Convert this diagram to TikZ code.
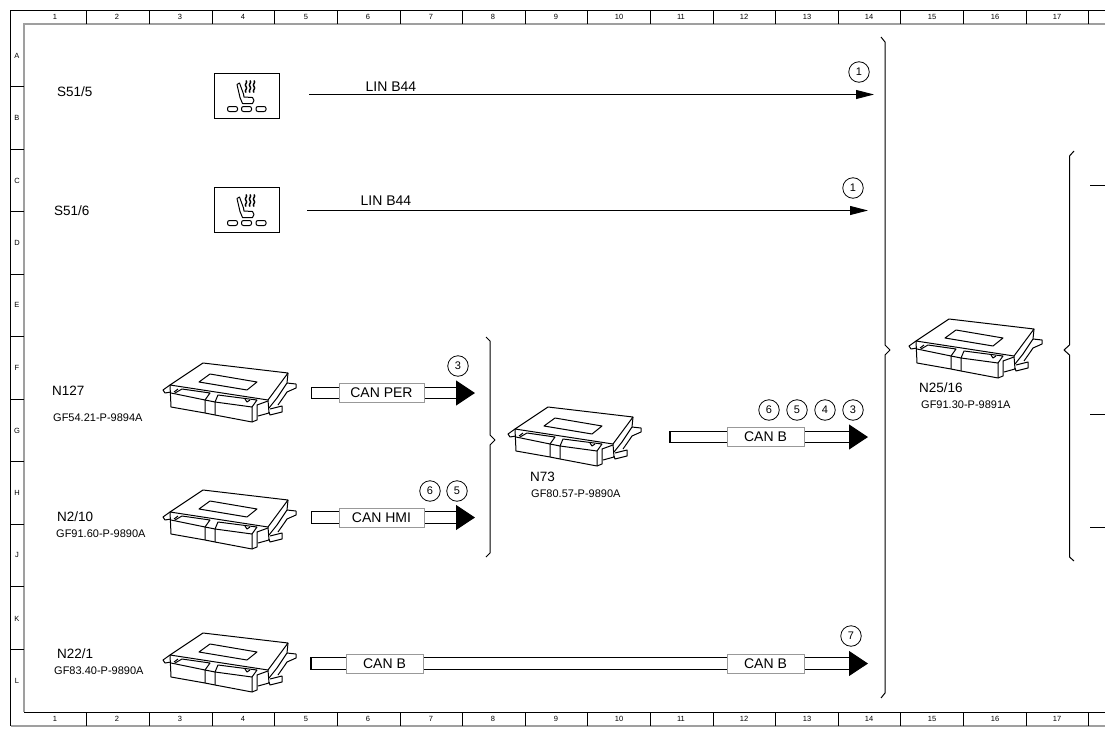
\documentclass[tikz,border=0pt]{standalone}
\usepackage{fontspec}
\setmainfont{Liberation Sans}
\usetikzlibrary{arrows.meta, calc}

\tikzset{
  ecu/.pic={
    \draw[eculine, fill=white] (20,35) -- (53,13) -- (138,23) -- (118,50) -- cycle;
    \draw[eculine] (49,32) -- (60,24) -- (107,32) -- (97,40) -- cycle;
    % left lug and plug
    \draw[eculine] (20,35) -- (13,40) -- (15,43) -- (21,42);
    \draw[eculine] (20,35) -- (21,57) -- (55,63) -- (55,50) -- (21,43);
    \draw[eculine] (25,43) -- (32,39) -- (60,43) -- (55,50);
    \draw[eculine] (28,39) -- (24,42);
    \draw[eculine] (55,50) -- (65,52) -- (65,65) -- (55,63);
    % right plug
    \draw[eculine] (65,52) -- (102,57) -- (102,72) -- (65,65);
    \draw[eculine] (65,52) -- (68,45) -- (107,50) -- (102,57);
    \draw[eculine] (95,49) -- (97,52) -- (100,50);
    \draw[eculine] (102,72) -- (107,70) -- (107,55) -- (118,51);
    \draw[eculine] (118,50) -- (119,63) -- (108,66);
    \draw[eculine] (138,23) -- (137,33) -- (127,48) -- (119,58);
    % mounting lugs
    \draw[eculine] (137,33) -- (146,34) -- (146,38) -- (137,42) -- (135,45) -- (128,55);
    \draw[eculine] (120,59) -- (132,56) -- (132,62) -- (120,65) -- (119,62);
  },
  seaticon/.pic={
    \draw[line width=1pt, line join=round] (-9.5,-11) -- (-7,-12.5) -- (-3,-1.5) -- (-2.5,1.5) -- (6,2)
      -- (7.5,5) -- (6,8) -- (-4,8) -- (-6.5,2) -- cycle;
    \foreach \x in {-0.5,3.5,7.5}
      \draw[line width=1.4pt] (\x,-15) .. controls (\x+2.5,-13) and (\x-2.5,-11) .. (\x,-9)
        .. controls (\x+2.5,-7) and (\x-2.5,-5) .. (\x,-3);
    \foreach \x in {-14,0,14.5}
      \draw[line width=1pt, rounded corners=2pt] (\x-5,11) rectangle (\x+5,16);
  }
}

\begin{document}
\begin{tikzpicture}[
  x=1pt, y=-1pt,
  frameline/.style={black, line width=0.9pt},
  innerline/.style={gray!75, line width=2pt},
  eculine/.style={black, line width=1pt, line join=round},
  gridtxt/.style={font=\fontsize{7.5}{9}\selectfont, inner sep=0pt},
  lbl/.style={font=\fontsize{13.5}{15}\selectfont, anchor=west, inner sep=0pt},
  code/.style={font=\fontsize{11}{12}\selectfont, anchor=west, inner sep=0pt},
  linlbl/.style={font=\fontsize{14}{15}\selectfont, inner sep=0pt},
  num/.style={draw, circle, line width=0.8pt, minimum size=20.5pt, inner sep=0pt,
              font=\fontsize{11}{12}\selectfont},
  seatbox/.style={draw=black, line width=1pt, minimum width=65pt, minimum height=45pt,
                  inner sep=0pt, outer sep=0pt},
  lin/.style={-{Triangle[length=18pt, width=9pt]}, black, line width=0.9pt},
  bus/.style={double=white, double distance=10.5pt, line width=1.1pt, draw=black,
              -{Triangle[length=19pt, width=25pt, fill=black]}},
  busend/.style={fill=black, minimum width=1.5pt, minimum height=12.5pt, inner sep=0pt, outer sep=0pt},
  buslbl/.style={draw=gray!80, fill=white, line width=1pt, minimum height=19pt, inner sep=0pt,
                 font=\fontsize{14}{15}\selectfont},
  bracket/.style={black, line width=1pt, line join=round}
]
  \useasboundingbox (0,0) rectangle (1114,736);
  \def\xR{1105} \def\yT{10.5} \def\yI{24} \def\yB{712} \def\yE{725.5}

  %--- sheet frame ---
  \draw[frameline] (\xR,\yT) -- (10.5,\yT) -- (10.5,\yE);
  \draw[innerline] (\xR,\yI) -- (\yI,\yI) -- (\yI,\yB);
  \draw[frameline] (\yI,\yB) -- (\xR,\yB);
  \draw[innerline] (10.5,\yE) -- (\xR,\yE);
  \foreach \x in {86,149,212,274,337,400,462,525,587,650,713,775,838,900,963,1026,1088} {
    \draw[frameline] (\x,\yT) -- (\x,\yI);
    \draw[frameline] (\x,\yB) -- (\x,\yE);
  }
  \foreach \y in {86,149,211,274,336,399,461,524,586,649}
    \draw[frameline] (10.5,\y) -- (\yI,\y);

  %--- grid numbers and letters ---
  \foreach \n/\x in {1/55,2/117,3/180,4/243,5/306,6/368,7/431,8/493,9/556,10/619,11/681,12/744,13/807,14/869,15/932,16/995,17/1057} {
    \node[gridtxt] (top\n) at (\x,17) {\n};
    \node[gridtxt] (bot\n) at (\x,719) {\n};
  }
  \foreach \l/\y in {A/56,B/118,C/181,D/243,E/305,F/368,G/431,H/493,J/555,K/619,L/681}
    \node[gridtxt] (row\l) at (17,\y) {\l};

  %--- seat switches ---
  \node[seatbox] (seatA) at (246.5,95.5) {};
  \node[seatbox] (seatB) at (246.5,209.5) {};
  \pic at (seatA) {seaticon};
  \pic at (seatB) {seaticon};
  \node[lbl] (sA) at (57,92) {S51/5};
  \node[lbl] (sB) at (54,211) {S51/6};

  %--- control units ---
  \pic at (150,350) {ecu};
  \pic at (150,477) {ecu};
  \pic at (150,620) {ecu};
  \pic at (495,394) {ecu};
  \pic at (896,306) {ecu};

  \node[lbl] (nA) at (52,391) {N127};
  \node[code] (cA) at (53,418) {GF54.21-P-9894A};
  \node[lbl] (nB) at (57,517) {N2/10};
  \node[code] (cB) at (56,534) {GF91.60-P-9890A};
  \node[lbl] (nC) at (57,654) {N22/1};
  \node[code] (cC) at (54,671) {GF83.40-P-9890A};
  \node[lbl] (nD) at (530,477) {N73};
  \node[code] (cD) at (531,494) {GF80.57-P-9890A};
  \node[lbl] (nE) at (919,388) {N25/16};
  \node[code] (cE) at (921,405) {GF91.30-P-9891A};

  %--- LIN lines ---
  \coordinate (linAs) at (309,94.5);
  \coordinate (linAe) at (874,94.5);
  \coordinate (linBs) at (307,210.5);
  \coordinate (linBe) at (868,210.5);
  \draw[lin] (linAs) -- (linAe);
  \draw[lin] (linBs) -- (linBe);
  \node[linlbl] (linAt) at (391,87) {LIN B44};
  \node[linlbl] (linBt) at (386,201) {LIN B44};
  \node[num] (circA) at (859,72) {1};
  \node[num] (circB) at (853,188) {1};

  %--- CAN lines ---
  \node[busend] (perS) at (311.5,393) {};
  \coordinate (perE) at (475,393);
  \draw[bus] (perS) -- (perE);
  \node[buslbl, minimum width=85pt] (per) at (381.5,393) {CAN PER};
  \node[num] (circC) at (458,366) {3};

  \node[busend] (hmiS) at (311.5,517.5) {};
  \coordinate (hmiE) at (475,517.5);
  \draw[bus] (hmiS) -- (hmiE);
  \node[buslbl, minimum width=85pt] (hmi) at (381.5,517.5) {CAN HMI};
  \node[num] (circD) at (430,491) {6};
  \node[num] (circE) at (457,491) {5};

  \node[busend] (cbS) at (670,437) {};
  \coordinate (cbE) at (868,437);
  \draw[bus] (cbS) -- (cbE);
  \node[buslbl, minimum width=77pt] (cb) at (765.5,437) {CAN B};
  \foreach \n/\x in {6/769,5/797,4/825,3/853}
    \node[num] (circF\n) at (\x,410) {\n};

  \node[busend] (loS) at (311,663.5) {};
  \coordinate (loE) at (868,663.5);
  \draw[bus] (loS) -- (loE);
  \node[buslbl, minimum width=77pt] (loA) at (384.5,663.5) {CAN B};
  \node[buslbl, minimum width=77pt] (loB) at (765.5,663.5) {CAN B};
  \node[num] (circG) at (851,636) {7};

  %--- braces ---
  \draw[bracket] (881,37) -- (885,42) -- (885,345) -- (890,350) -- (885,355) -- (885,693) -- (881,698);
  \draw[bracket] (486,337) -- (490,341) -- (490,435) -- (495,440) -- (490,445) -- (490,553) -- (486,557);
  \draw[bracket] (1074,151) -- (1069.5,156) -- (1069.5,345) -- (1064,350) -- (1069.5,355) -- (1069.5,557) -- (1074,561);

  %--- outgoing stubs ---
  \foreach \y in {185,414,527}
    \draw[black, line width=1pt] (1090,\y) -- (\xR,\y);
\end{tikzpicture}
\end{document}
